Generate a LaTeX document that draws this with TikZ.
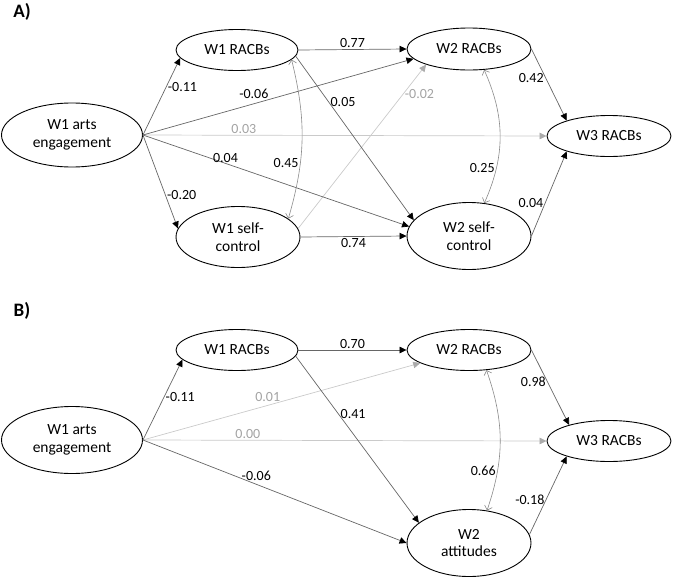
\documentclass[tikz,border=0pt]{standalone}
\usepackage{fontspec}
\setmainfont{Carlito}
\usetikzlibrary{shapes.geometric, arrows.meta}
\definecolor{edge-grey}{HTML}{666666}
\definecolor{faint-grey}{HTML}{CACACA}
\definecolor{tip-grey}{HTML}{ABABAB}
\definecolor{label-grey}{HTML}{A3A3A3}
\definecolor{covar-grey}{HTML}{8A8A8A}

\begin{document}
\begin{tikzpicture}[x=1pt, y=-1pt,
    latent/.style={draw, ellipse, line width=0.9pt, inner sep=0pt, align=center,
                   font=\fontsize{15.5}{17.5}\selectfont},
    effect/.style={draw=edge-grey, line width=0.7pt,
                   -{Triangle[length=7pt, width=6.5pt, color=black]}},
    nseffect/.style={draw=faint-grey, line width=0.7pt,
                   -{Triangle[length=7pt, width=6.5pt, color=tip-grey]}},
    covar/.style={draw=covar-grey, line width=0.6pt,
                  {Straight Barb[length=4pt, width=8pt]}-{Straight Barb[length=4pt, width=8pt]}},
    coef/.style={font=\fontsize{14}{16}\selectfont, inner sep=1.5pt},
    nscoef/.style={coef, text=label-grey},
    tag/.style={font=\fontsize{19}{21}\selectfont\bfseries}]
    % Coordinates in px of the 673 x 579 frame, y running down.
    %   panel A: rows at y=50 / 136 / 237, panel B: rows at y=350 / 440 / 543
    %   columns at x=72 (W1 arts), 237 (W1), 469 (W2), 609 (W3)
    \useasboundingbox (0,0) rectangle (673,579);

    % ---- A) ----
    \node[tag] (tagA) at (22,12) {A)};
    \node[latent, minimum width=141, minimum height=64] (artsA) at (72,135) {W1 arts\\engagement};
    \node[latent, minimum width=122, minimum height=41] (w1rA) at (237,50) {W1 RACBs};
    \node[latent, minimum width=124, minimum height=61] (w1sA) at (238,237) {W1 self-\\control};
    \node[latent, minimum width=124, minimum height=42] (w2rA) at (469,49) {W2 RACBs};
    \node[latent, minimum width=124, minimum height=67] (w2sA) at (469,236) {W2 self-\\control};
    \node[latent, minimum width=124, minimum height=41] (w3A) at (609,136) {W3 RACBs};

    \draw[nseffect] (artsA.east) -- node[nscoef, pos=.25, above] (cA4) {0.03} (w3A.west);
    \draw[nseffect] (w1sA.8) -- node[nscoef, pos=.82, right] (cA8) {-0.02} (w2rA.200);
    \draw[effect] (artsA.east) -- node[coef, pos=.62, right] (cA1) {-0.11} (w1rA.188);
    \draw[effect] (artsA.east) -- node[coef, pos=.64, right] (cA2) {-0.20} (w1sA.172);
    \draw[effect] (artsA.east) -- node[coef, pos=.41, above=3pt] (cA3) {-0.06} (w2rA.190);
    \draw[effect] (artsA.east) -- node[coef, pos=.31, above, inner sep=0.5pt] (cA5) {0.04} (w2sA.171);
    \draw[effect] (w1rA.east) -- node[coef, above] (cA6) {0.77} (w2rA.west);
    \draw[effect] (w1rA.354) -- node[coef, pos=.28, right] (cA7) {0.05} (w2sA.164);
    \draw[effect] (w1sA.east) -- node[coef, below] (cA9) {0.74} (w2sA.west);
    \draw[effect] (w2rA.east) -- node[coef, pos=.4, left] (cA12) {0.42} (w3A.160);
    \draw[effect] (w2sA.east) -- node[coef, pos=.39, left] (cA13) {0.04} (w3A.200);
    \draw[covar] (w1rA.350) to[bend left=15] node[coef, pos=.66, left] (cA10) {0.45} (w1sA.20);
    \draw[covar] (w2rA.-54) to[bend left=24] node[coef, pos=.74, left] (cA11) {0.25} (w2sA.65);

    % ---- B) ----
    \node[tag] (tagB) at (22,311) {B)};
    \node[latent, minimum width=141, minimum height=67] (artsB) at (72,440) {W1 arts\\engagement};
    \node[latent, minimum width=122, minimum height=41] (w1rB) at (237,350) {W1 RACBs};
    \node[latent, minimum width=124, minimum height=41] (w2rB) at (469,350) {W2 RACBs};
    \node[latent, minimum width=124, minimum height=67] (w2aB) at (469,543) {W2\\attitudes};
    \node[latent, minimum width=124, minimum height=41] (w3B) at (609,441) {W3 RACBs};

    \draw[nseffect] (artsB.east) -- node[nscoef, pos=.26, above] (cB3) {0.00} (w3B.west);
    \draw[nseffect] (artsB.east) -- node[nscoef, pos=.45, above=2pt] (cB2) {0.01} (w2rB.195);
    \draw[effect] (artsB.east) -- node[coef, pos=.53, right] (cB1) {-0.11} (w1rB.190);
    \draw[effect] (artsB.east) -- node[coef, pos=.43, above=2pt] (cB4) {-0.06} (w2aB.west);
    \draw[effect] (w1rB.east) -- node[coef, above] (cB5) {0.70} (w2rB.west);
    \draw[effect] (w1rB.354) -- node[coef, pos=.35, right] (cB6) {0.41} (w2aB.158);
    \draw[effect] (w2rB.east) -- node[coef, pos=.43, left] (cB8) {0.98} (w3B.158);
    \draw[effect] (w2aB.8) -- node[coef, pos=.45, left] (cB9) {-0.18} (w3B.200);
    \draw[covar] (w2rB.-49) to[bend left=19] node[coef, pos=.73, left] (cB7) {0.66} (w2aB.61);
\end{tikzpicture}
\end{document}
